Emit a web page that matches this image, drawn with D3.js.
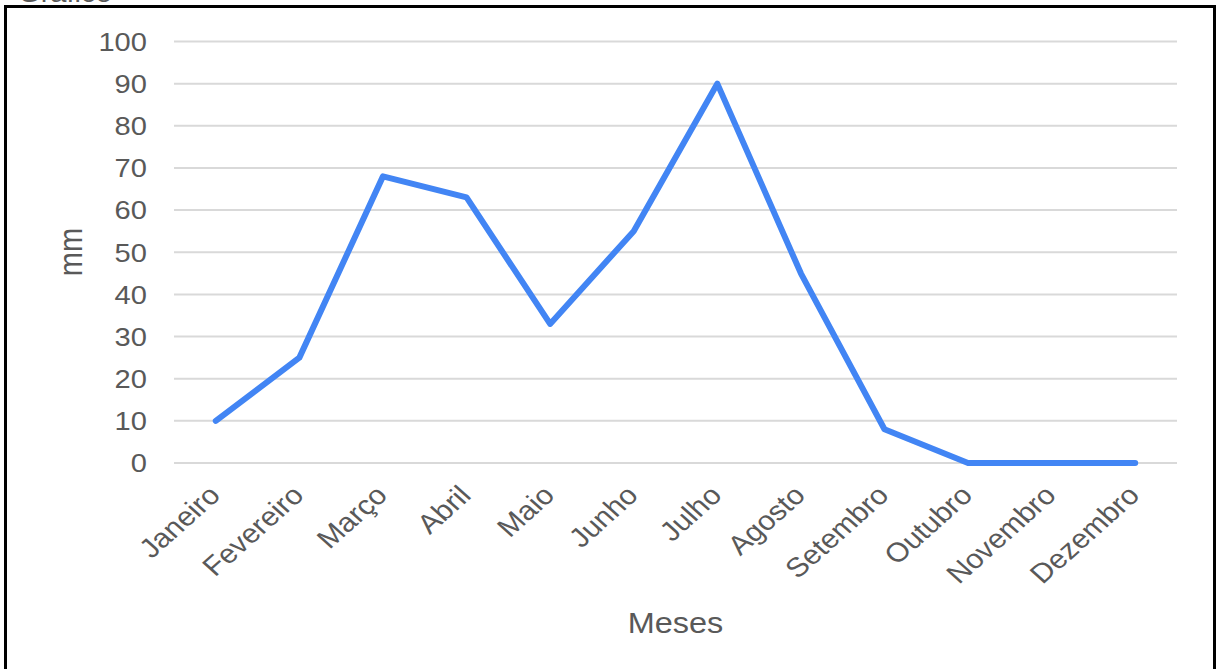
<!DOCTYPE html>
<html>
<head>
<meta charset="utf-8">
<script src="https://cdn.jsdelivr.net/npm/d3@7"></script>
<style>
  html, body { margin: 0; padding: 0; background: #fff; }
  svg { display: block; }
  text { font-family: "Liberation Sans", Arial, sans-serif; fill: #595959; }
</style>
</head>
<body>
<svg id="chart" width="1216" height="669"></svg>
<script>
const months = ["Janeiro","Fevereiro","Março","Abril","Maio","Junho","Julho","Agosto","Setembro","Outubro","Novembro","Dezembro"];
const values = [10, 25, 68, 63, 33, 55, 90, 45, 8, 0, 0, 0];
const yTicks = [0, 10, 20, 30, 40, 50, 60, 70, 80, 90, 100];
const xTitle = "Meses";
const yTitle = "mm";
const topText = "Gráfico";

const sx = 1.12; // horizontal stretch of the reference image
const svg = d3.select("#chart");

// border
svg.append("rect")
  .attr("x", 5.5).attr("y", 6.5)
  .attr("width", 1209).attr("height", 720)
  .attr("fill", "none").attr("stroke", "#000").attr("stroke-width", 3);

// clipped title at top (only its lower edge shows in the reference)
svg.append("text")
  .attr("transform", `translate(18,1.5) scale(${sx},1)`)
  .attr("font-size", 26)
  .text(topText);

const x = d3.scalePoint().domain(months).range([174, 1177]).padding(0.5);
const y = d3.scaleLinear().domain([0, 100]).range([463, 41.5]);

// gridlines
svg.append("g").selectAll("line").data(yTicks).join("line")
  .attr("x1", 174).attr("x2", 1177)
  .attr("y1", d => y(d)).attr("y2", d => y(d))
  .attr("stroke", "#d9d9d9").attr("stroke-width", 2);

// y tick labels
svg.append("g").selectAll("text").data(yTicks).join("text")
  .attr("transform", d => `translate(147,${y(d)}) scale(${sx},1)`)
  .attr("text-anchor", "end")
  .attr("dy", "0.36em")
  .attr("font-size", 26)
  .text(d => d);

// x tick labels
svg.append("g").selectAll("text").data(months).join("text")
  .attr("transform", d => `translate(${x(d) + 6},497) scale(${sx},1) rotate(-45)`)
  .attr("text-anchor", "end")
  .attr("font-size", 27)
  .text(d => d);

// axis titles
svg.append("text")
  .attr("transform", `translate(675.5,633) scale(${sx},1)`)
  .attr("text-anchor", "middle")
  .attr("font-size", 29)
  .text(xTitle);

svg.append("text")
  .attr("transform", `translate(82,252) scale(${sx},1) rotate(-90)`)
  .attr("text-anchor", "middle")
  .attr("font-size", 29)
  .text(yTitle);

// line
const line = d3.line().x((d, i) => x(months[i])).y(d => y(d));
svg.append("path")
  .datum(values)
  .attr("d", line)
  .attr("fill", "none")
  .attr("stroke", "#4285F4")
  .attr("stroke-width", 6)
  .attr("stroke-linejoin", "round")
  .attr("stroke-linecap", "round");
</script>
</body>
</html>
